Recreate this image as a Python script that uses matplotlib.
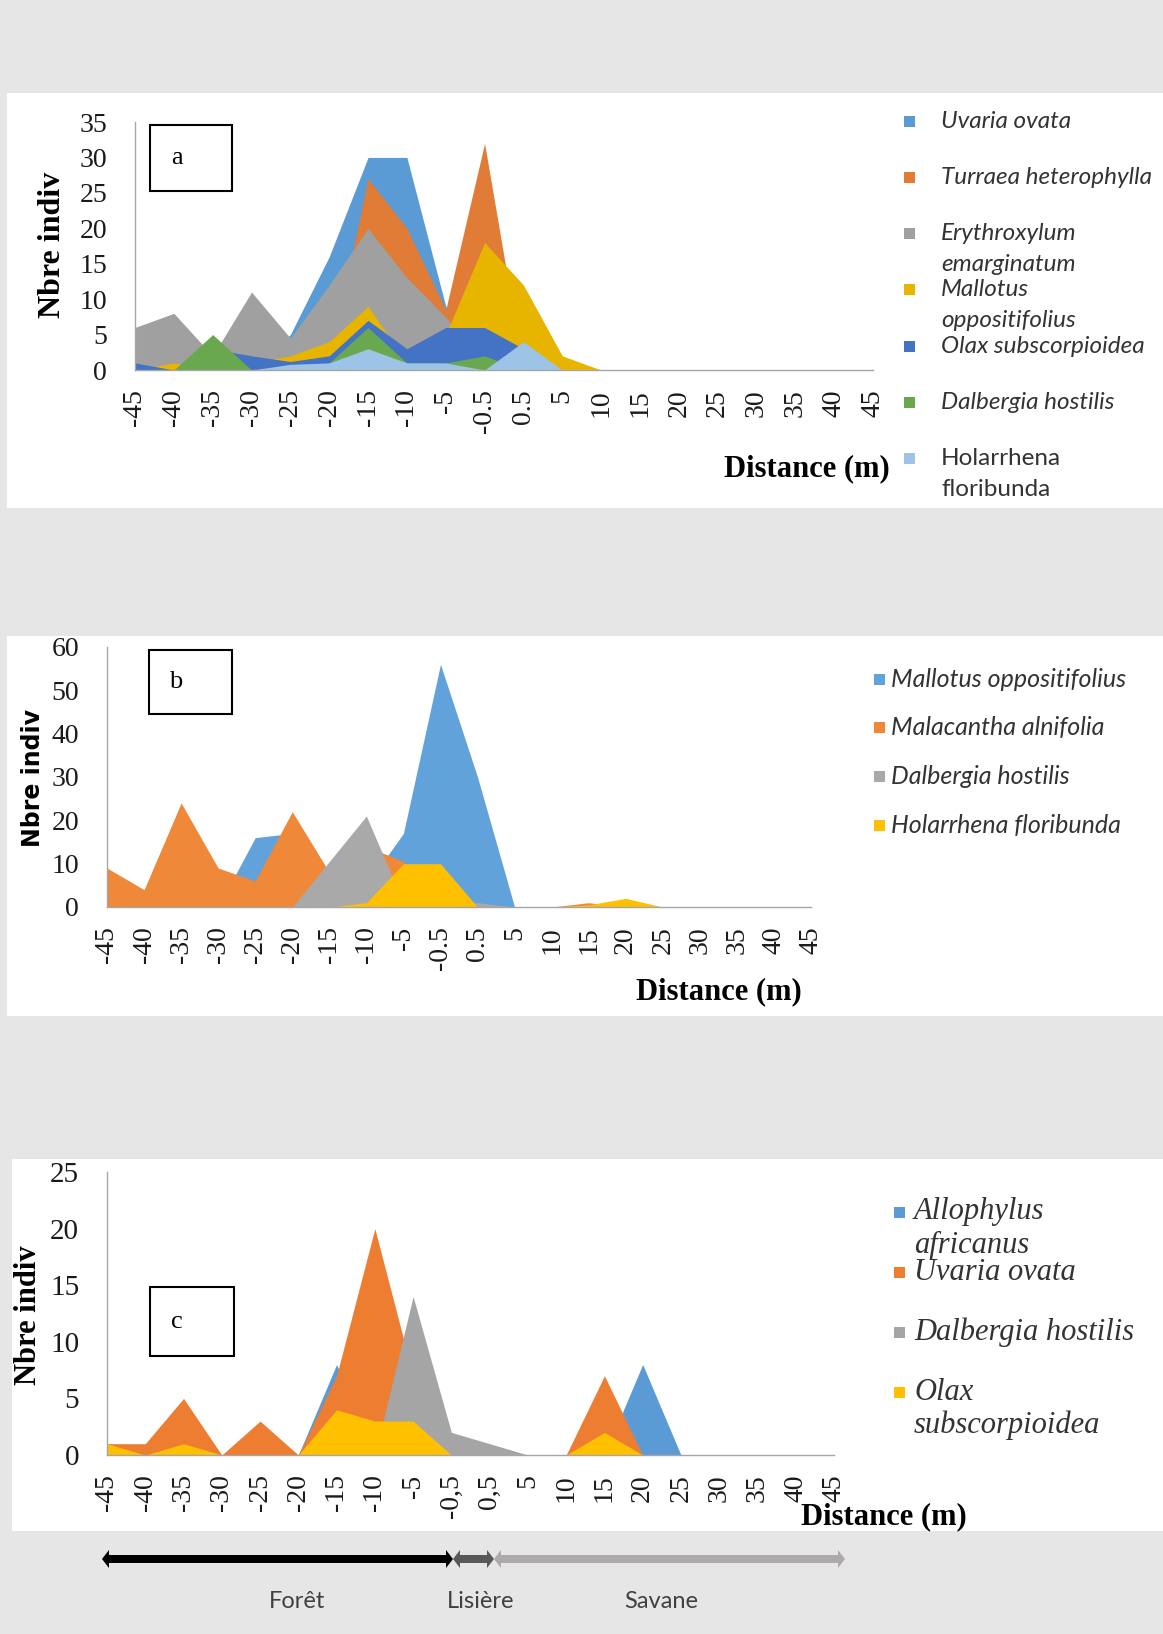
import matplotlib
matplotlib.use('Agg')
import matplotlib.pyplot as plt
from matplotlib.patches import Rectangle, Polygon

W, H = 1163, 1634

DIST = ['-45', '-40', '-35', '-30', '-25', '-20', '-15', '-10', '-5', '-0.5',
        '0.5', '5', '10', '15', '20', '25', '30', '35', '40', '45']
DIST_C = ['-45', '-40', '-35', '-30', '-25', '-20', '-15', '-10', '-5', '-0,5',
          '0,5', '5', '10', '15', '20', '25', '30', '35', '40', '45']

# (a) species counts per distance class
UVARIA_A = [0, 0, 0, 0, 5, 16, 30, 30, 9, 0, 0, 0, 0, 0, 0, 0, 0, 0, 0, 0]
TURRAEA_A = [0, 0, 0, 0, 0, 1, 27, 20, 8.5, 32, 0, 0, 0, 0, 0, 0, 0, 0, 0, 0]
ERYTHRO_A = [6, 8, 2, 11, 4.5, 12, 20, 13, 7.5, 0, 0, 0, 0, 0, 0, 0, 0, 0, 0, 0]
MALLOTUS_A = [0, 1, 0, 1, 2, 4, 9, 1, 5, 18, 12, 2, 0, 0, 0, 0, 0, 0, 0, 0]
OLAX_A = [1, 0, 3, 2, 1.2, 2, 7, 3, 6, 6, 3, 0, 0, 0, 0, 0, 0, 0, 0, 0]
DALBERGIA_A = [0, 0, 5, 0, 0, 1, 6, 1, 1, 2, 0, 0, 0, 0, 0, 0, 0, 0, 0, 0]
HOLARRHENA_A = [0, 0, 0, 0, 0.8, 1, 3, 1, 1, 0, 4, 0, 0, 0, 0, 0, 0, 0, 0, 0]

# (b)
MALLOTUS_B = [0, 0, 0, 0, 16, 17, 8, 5, 17, 56, 30, 0, 0, 0, 0, 0, 0, 0, 0, 0]
MALACANTHA_B = [9, 4, 24, 9, 6, 22, 8, 14, 10.5, 0, 0, 0, 0, 1, 0, 0, 0, 0, 0, 0]
DALBERGIA_B = [0, 0, 0, 0, 0, 0, 10.5, 21, 1, 1, 1, 0, 0, 0, 0, 0, 0, 0, 0, 0]
HOLARRHENA_B = [0, 0, 0, 0, 0, 0, 0, 1, 10, 10, 0, 0, 0, 0.5, 2, 0, 0, 0, 0, 0]

# (c)
ALLOPHYLUS_C = [0, 0, 0, 0, 0, 0, 8, 0, 0, 0, 0, 0, 0, 0, 8, 0, 0, 0, 0, 0]
UVARIA_C = [1, 1, 5, 0, 3, 0, 7, 20, 7, 0, 0, 0, 0, 7, 0, 0, 0, 0, 0, 0]
DALBERGIA_C = [0, 0, 0, 0, 0, 0, 0, 0, 14, 2, 1, 0, 0, 0, 0, 0, 0, 0, 0, 0]
OLAX_C = [1, 0, 1, 0, 0, 0, 4, 3, 3, 0, 0, 0, 0, 2, 0, 0, 0, 0, 0, 0]

SERIES_A = [
    ('Uvaria ovata', UVARIA_A, '#5B9BD5', True),
    ('Turraea heterophylla', TURRAEA_A, '#E07C35', True),
    ('Erythroxylum\nemarginatum', ERYTHRO_A, '#A0A0A0', True),
    ('Mallotus\noppositifolius', MALLOTUS_A, '#E7B500', True),
    ('Olax subscorpioidea', OLAX_A, '#4472C4', True),
    ('Dalbergia hostilis', DALBERGIA_A, '#6AA84F', True),
    ('Holarrhena\nfloribunda', HOLARRHENA_A, '#9DC3E6', False),
]
SERIES_B = [
    ('Mallotus oppositifolius', MALLOTUS_B, '#62A2DA', True),
    ('Malacantha alnifolia', MALACANTHA_B, '#F0883A', True),
    ('Dalbergia hostilis', DALBERGIA_B, '#A9A9A9', True),
    ('Holarrhena floribunda', HOLARRHENA_B, '#FFC000', True),
]
SERIES_C = [
    ('Allophylus\nafricanus', ALLOPHYLUS_C, '#5B9BD5', True),
    ('Uvaria ovata', UVARIA_C, '#ED7D31', True),
    ('Dalbergia hostilis', DALBERGIA_C, '#A5A5A5', True),
    ('Olax\nsubscorpioidea', OLAX_C, '#FFC000', True),
]

SERIF = 'Liberation Serif'
SANS = 'Lato'
TEXT = '#1a1a1a'
LEG_TEXT = '#333333'
AXIS = '#A6A6A6'

fig = plt.figure(figsize=(W / 100, H / 100), dpi=100)
fig.patch.set_facecolor('#E6E6E6')

# full-figure overlay in pixel units for panels, labels and arrows
bg = fig.add_axes([0, 0, 1, 1], zorder=0)
bg.set_xlim(0, W)
bg.set_ylim(H, 0)
bg.axis('off')

for x0, y0, x1, y1 in [(7, 93, W, 508), (7, 636, W, 1016), (12, 1159, W, 1531)]:
    bg.add_patch(Rectangle((x0, y0), x1 - x0, y1 - y0, facecolor='white', edgecolor='none'))


def area_panel(left, top, right, bottom, series, labels, ymax, ystep, ytick_size):
    ax = fig.add_axes([left / W, 1 - bottom / H, (right - left) / W, (bottom - top) / H], zorder=1)
    ax.set_facecolor('none')
    x = list(range(len(labels)))
    for _, vals, color, _ in series:
        ax.fill_between(x, 0, vals, color=color, linewidth=0)
    ax.set_xlim(0, len(labels) - 1)
    ax.set_ylim(0, ymax)
    ax.set_yticks(range(0, ymax + 1, ystep))
    ax.set_yticklabels([str(v) for v in range(0, ymax + 1, ystep)],
                       fontfamily=SERIF, fontsize=ytick_size, color=TEXT)
    ax.set_xticks(x)
    ax.set_xticklabels(labels, rotation=90, fontfamily=SERIF, fontsize=20, color=TEXT)
    ax.tick_params(axis='y', length=0, pad=20)
    ax.tick_params(axis='x', length=0, pad=14)
    for s in ('top', 'right'):
        ax.spines[s].set_visible(False)
    for s in ('left', 'bottom'):
        ax.spines[s].set_color(AXIS)
        ax.spines[s].set_linewidth(1)
    return ax


def legend(series, x_sq, x_txt, y0, pitch, line_gap, size, family, sq=10):
    for i, (name, _, color, italic) in enumerate(series):
        y = y0 + i * pitch
        bg.add_patch(Rectangle((x_sq, y - sq / 2), sq, sq, facecolor=color, edgecolor='none'))
        for j, line in enumerate(name.split('\n')):
            bg.text(x_txt, y + j * line_gap, line, fontsize=size, family=family,
                    style='italic' if italic else 'normal', color=LEG_TEXT,
                    ha='left', va='center')


def tag_box(x0, y0, x1, y1, letter):
    bg.add_patch(Rectangle((x0, y0), x1 - x0, y1 - y0, facecolor='white',
                           edgecolor='black', linewidth=1.5))
    bg.text(x0 + 27, (y0 + y1) / 2, letter, fontsize=19, family=SERIF,
            color='black', ha='center', va='center')


# (a)
area_panel(135, 122, 873, 370, SERIES_A, DIST, 35, 5, 20)
bg.text(53, 245, 'Nbre indiv', rotation=90, fontsize=23, family=SERIF,
        fontweight='bold', ha='center', va='center', color='black')
bg.text(807, 469, 'Distance (m)', fontsize=22, family=SERIF, fontweight='bold',
        ha='center', va='center', color='black')
tag_box(150, 125, 232, 191, 'a')
legend(SERIES_A, 904, 941, 121, 56.3, 31, 17.5, SANS, sq=11)

# (b)
area_panel(107, 647, 811, 907, SERIES_B, DIST, 60, 10, 20)
bg.text(33, 778, 'Nbre indiv', rotation=90, fontsize=17, family='DejaVu Sans',
        fontweight='bold', ha='center', va='center', color='black')
bg.text(719, 992, 'Distance (m)', fontsize=22, family=SERIF, fontweight='bold',
        ha='center', va='center', color='black')
tag_box(149, 650, 232, 714, 'b')
legend(SERIES_B, 874, 891, 679, 48.7, 31, 18, SANS, sq=11)

# (c)
area_panel(107, 1172, 834, 1455, SERIES_C, DIST_C, 25, 5, 21)
bg.text(29, 1315, 'Nbre indiv', rotation=90, fontsize=22, family=SERIF,
        fontweight='bold', ha='center', va='center', color='black')
bg.text(884, 1517, 'Distance (m)', fontsize=22, family=SERIF, fontweight='bold',
        ha='center', va='center', color='black')
tag_box(150, 1287, 234, 1356, 'c')
legend(SERIES_C, 894, 914, 1212, 60, 33, 22, SERIF, sq=11)


def double_arrow(x0, x1, y, color, shaft=4, head=9, hl=7):
    pts = [(x0, y), (x0 + hl, y - head), (x0 + hl, y - shaft), (x1 - hl, y - shaft),
           (x1 - hl, y - head), (x1, y), (x1 - hl, y + head), (x1 - hl, y + shaft),
           (x0 + hl, y + shaft), (x0 + hl, y + head)]
    bg.add_patch(Polygon(pts, closed=True, facecolor=color, edgecolor='none'))


# zone bar under the charts
double_arrow(102, 453, 1559, '#000000')
double_arrow(453, 494, 1559, '#595959')
double_arrow(494, 845, 1559, '#AEAAAA')
for label, xc in [('Forêt', 297), ('Lisière', 481), ('Savane', 661)]:
    bg.text(xc, 1601, label, fontsize=17, family=SANS, color='#404040',
            ha='center', va='center')

fig.savefig('out.png', dpi=100, facecolor=fig.get_facecolor())
